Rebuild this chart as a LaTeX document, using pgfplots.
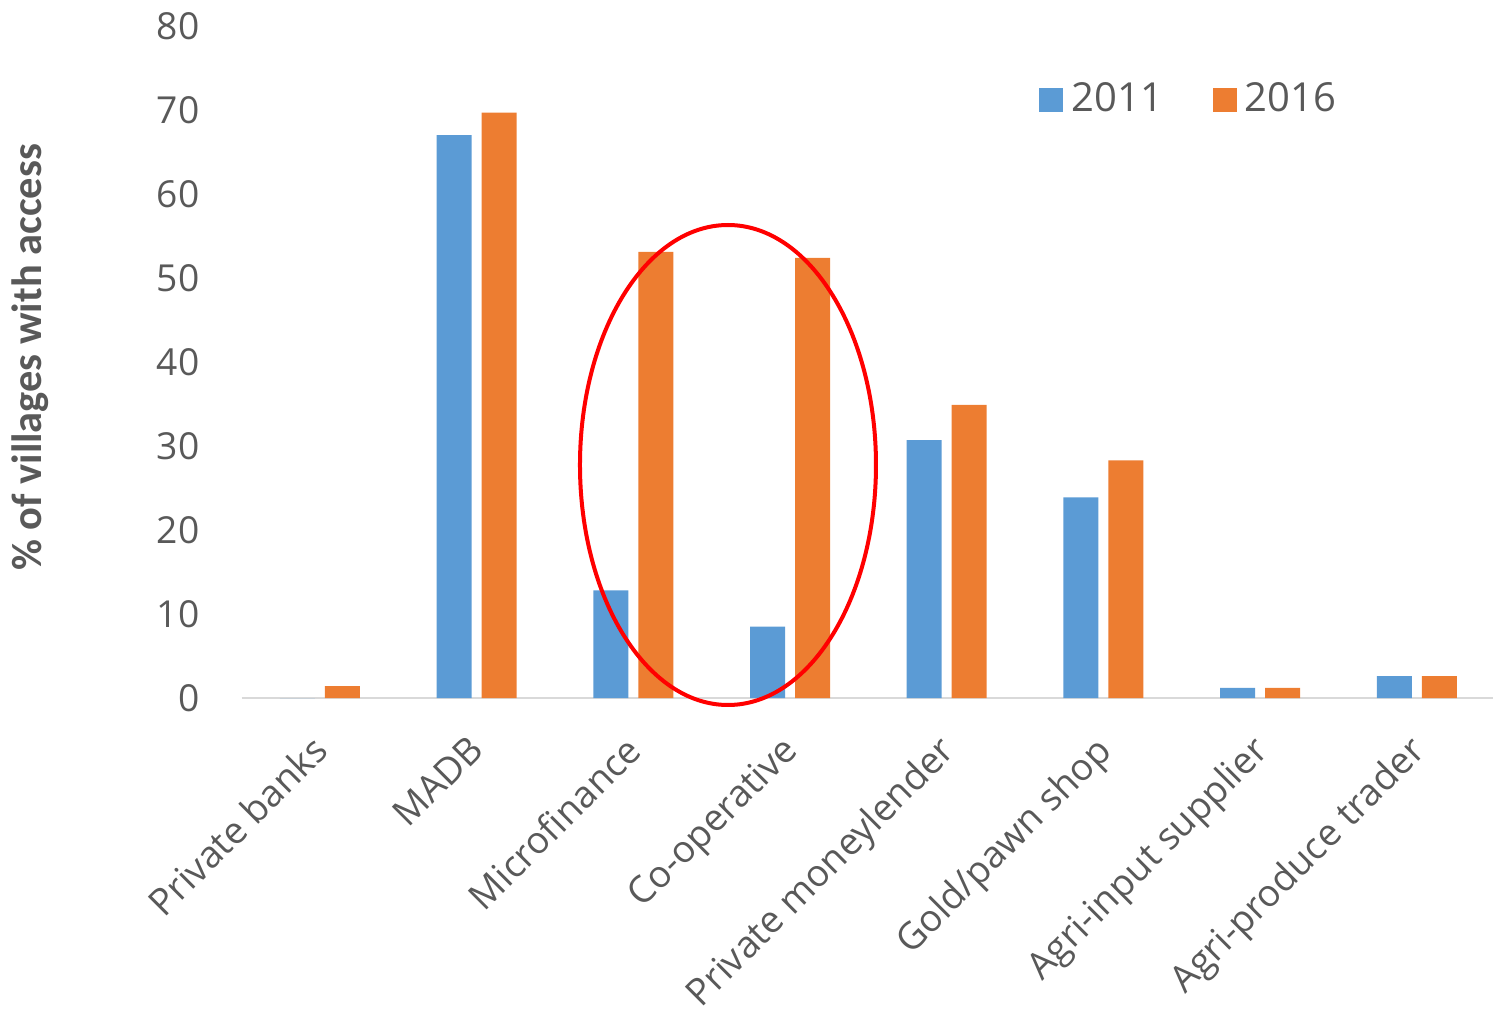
\documentclass[border=0pt]{standalone}
\usepackage{pgfplots}
\pgfplotsset{compat=1.18}
\usepackage{fontspec}
\setmainfont{Open Sans}
\newfontfamily\calibri{Carlito}
\definecolor{c2011}{HTML}{5B9BD5}
\definecolor{c2016}{HTML}{ED7D31}
\definecolor{txt}{HTML}{595959}
\definecolor{base}{HTML}{D9D9D9}
\pgfplotstableread{
x y2011 y2016
0 0    1.4
1 67.0 69.7
2 12.8 53.1
3 8.5  52.4
4 30.7 34.9
5 23.9 28.3
6 1.2  1.2
7 2.6  2.6
}\datatable
\begin{document}
\begin{tikzpicture}
\begin{axis}[
  at={(0,0)}, anchor=origin,
  scale only axis,
  width=313.4pt, height=168pt,
  xmin=-0.5, xmax=7.5, ymin=0, ymax=80,
  ybar=2.5pt, bar width=8.75pt,
  separate axis lines,
  axis x line*=bottom, axis y line*=left,
  x axis line style={draw=base, line width=0.5pt},
  y axis line style={draw=none},
  major tick length=0pt,
  xtick=data,
  xticklabels={Private banks,MADB,Microfinance,Co-operative,Private moneylender,Gold/pawn shop,Agri-input supplier,Agri-produce trader},
  ytick={0,10,...,80},
  /pgf/number format/assume math mode=true,
  tick label style={font=\fontsize{9.3}{11}\selectfont, text=txt},
  xticklabel style={xshift=-2.5pt, yshift=-7.1pt, rotate=45, anchor=north east, inner sep=1pt},
  yticklabel style={anchor=east, xshift=-7pt},
  ylabel={\calibri\bfseries \% of villages with access},
  every axis y label/.style={at={(axis description cs:0,0.507)}, xshift=-52.9pt, rotate=90, anchor=center, font=\fontsize{10.6}{12}\selectfont, text=txt},
  legend style={at={(rel axis cs:0.6262,0.8895)}, anchor=west, draw=none, fill=none, legend columns=2, font=\fontsize{10}{12}\selectfont, text=txt,
    /tikz/every even column/.append style={column sep=10.5pt}},
  legend image code/.code={\fill[#1] (-4pt,-3pt) rectangle (2pt,3pt);},
  clip=false,
]
\addplot[fill=c2011, draw=none] table[x=x, y=y2011] {\datatable};
\addplot[fill=c2016, draw=none] table[x=x, y=y2016] {\datatable};
\legend{2011,2016}
\draw[red, line width=1pt] (axis cs:2.604,27.74) ellipse [x radius=37pt, y radius=60pt];
\end{axis}
\pgfresetboundingbox
\path (-79.99pt,-77.75pt) rectangle (293.26pt,174.5pt);
\end{tikzpicture}
\end{document}
